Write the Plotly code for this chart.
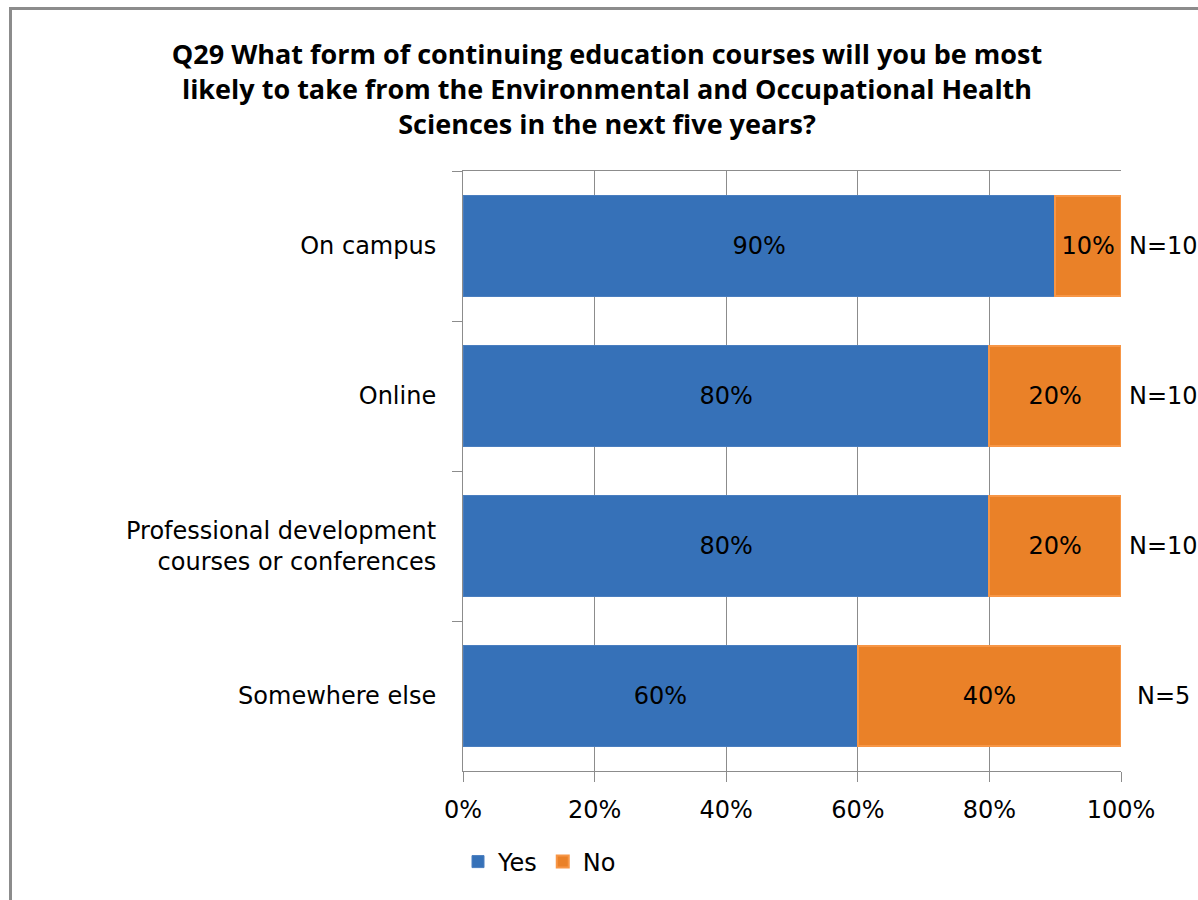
import plotly.graph_objects as go

categories = ["On campus", "Online", "Professional development<br>courses or conferences", "Somewhere else"]
yes_vals = [90, 80, 80, 60]
no_vals = [10, 20, 20, 40]
n_labels = ["N=10", "N=10", "N=10", "N=5"]
x_ticks = [0, 20, 40, 60, 80, 100]

W, H = 1198, 900
L, R, T, B = 463, 77, 171, 129

label_font = dict(family="DejaVu Sans", size=24, color="#000000")

fig = go.Figure()
fig.add_trace(go.Bar(
    y=categories, x=yes_vals, name="Yes", orientation="h",
    marker=dict(color="#3671B8", line=dict(color="#4A7EBF", width=1)),
    text=[f"{v}%" for v in yes_vals], textposition="inside",
    insidetextanchor="middle", textfont=label_font, width=0.67,
))
fig.add_trace(go.Bar(
    y=categories, x=no_vals, name="No", orientation="h",
    marker=dict(color="#EA8128", line=dict(color="#F79646", width=2)),
    text=[f"{v}%" for v in no_vals], textposition="inside",
    insidetextanchor="middle", textfont=label_font, width=0.67,
))

for cat, lab in zip(categories, n_labels):
    fig.add_annotation(x=100, y=cat, xref="x", yref="y", text=lab,
                       showarrow=False, xanchor="center", xshift=42,
                       font=label_font)

fig.update_layout(
    width=W, height=H,
    barmode="stack",
    paper_bgcolor="white", plot_bgcolor="white",
    margin=dict(l=L, r=R, t=T, b=B),
    title=dict(
        text="Q29 What form of continuing education courses will you be most<br>likely to take from the Environmental and Occupational Health<br>Sciences in the next five years?",
        x=607 / W, xanchor="center", xref="container",
        y=1 - 64 / H, yanchor="middle", yref="container",
        font=dict(family="Open Sans", size=27, color="#000000", weight="bold"),
    ),
    legend=dict(orientation="h", x=(458 - L) / (W - L - R), xanchor="left",
                y=-(862 - (H - B)) / (H - T - B), yanchor="middle",
                font=dict(family="DejaVu Sans", size=24, color="#000000"),
                traceorder="normal", itemwidth=30),
    showlegend=True,
    uniformtext=dict(mode=False),
)
fig.update_xaxes(
    range=[0, 100], tickvals=x_ticks, ticktext=[f"{v}%" for v in x_ticks],
    showgrid=True, gridcolor="#8C8C8C", gridwidth=1,
    showline=True, linecolor="#8C8C8C", linewidth=1, mirror=True,
    ticks="outside", ticklen=10, tickcolor="#8C8C8C",
    tickfont=label_font, zeroline=False, fixedrange=True,
    ticklabelstandoff=7,
)
fig.update_yaxes(
    autorange="reversed", tickson="boundaries",
    showgrid=False, showline=True, linecolor="#8C8C8C", linewidth=1,
    ticks="outside", ticklen=10, tickcolor="#8C8C8C",
    tickfont=label_font, ticklabelstandoff=21, fixedrange=True,
)

# chart border
px_w = W - L - R
px_h = H - T - B
fig.add_shape(type="rect", xref="paper", yref="paper",
              x0=(10.5 - L) / px_w, x1=(W + 20 - L) / px_w,
              y0=1 + (T - 8.5) / px_h, y1=-(B + 20) / px_h,
              line=dict(color="#8C8C8C", width=3), layer="below")

fig.write_html("out.html",
               config={"displayModeBar": False},
               post_script="document.body.style.margin='0px';document.body.style.overflow='hidden';")
